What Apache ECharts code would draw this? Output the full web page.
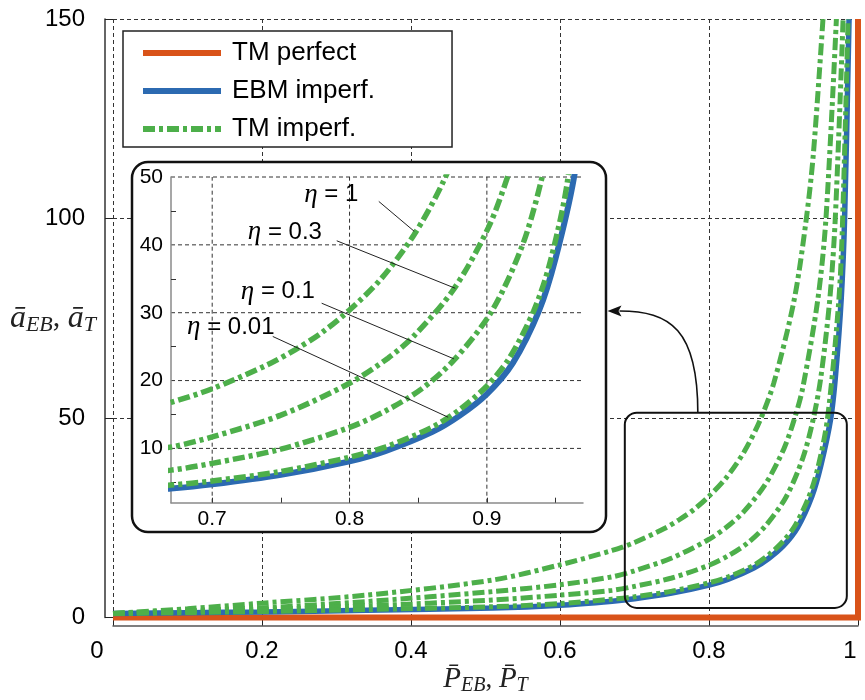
<!DOCTYPE html>
<html><head><meta charset="utf-8">
<script src="https://cdn.jsdelivr.net/npm/echarts@6/dist/echarts.min.js"></script>
<style>html,body{margin:0;padding:0;background:#fff}#c{width:865px;height:700px}</style>
</head><body><div id="c"></div>
<script>
// ---- data ----
const P_perf = [0, 1, 1];
const A_perf = [0, 0, 150];

const P_ebm = [0, 0.1, 0.2, 0.34, 0.51, 0.6, 0.67, 0.7, 0.75, 0.8, 0.826, 0.86, 0.88, 0.9, 0.919, 0.938, 0.95, 0.9635, 0.97, 0.9775, 0.982, 0.988];
const A_ebm = [1.0, 1.2, 1.4, 1.8, 2.4, 3.1, 4.1, 4.7, 6.1, 8.1, 9.6, 12.4, 14.8, 18.0, 22.6, 30.3, 38.0, 50, 61, 80, 100, 150];

const P_eta001 = [0, 0.1, 0.2, 0.34, 0.51, 0.6, 0.67, 0.7, 0.75, 0.8, 0.826, 0.86, 0.88, 0.9, 0.916, 0.934, 0.946, 0.959, 0.974, 0.979, 0.9867];
const A_eta001 = [1.0, 1.25, 1.5, 2.0, 2.7, 3.5, 4.6, 5.2, 6.6, 8.7, 10.2, 13.1, 15.7, 19.2, 23.2, 30.2, 37.4, 49.8, 78.8, 97.6, 150];

const P_eta01 = [0, 0.1, 0.2, 0.34, 0.51, 0.6, 0.67, 0.7, 0.75, 0.8, 0.826, 0.852, 0.876, 0.9035, 0.926, 0.940, 0.950, 0.962, 0.9695, 0.980];
const A_eta01 = [1.0, 1.5, 2.0, 2.9, 4.4, 5.6, 6.8, 7.8, 9.9, 13.1, 15.5, 18.7, 23.0, 30.2, 40.0, 49.8, 60, 79.5, 100, 150];

const P_eta03 = [0, 0.1, 0.2, 0.34, 0.51, 0.6, 0.67, 0.7, 0.75, 0.8, 0.828, 0.847, 0.876, 0.901, 0.916, 0.926, 0.946, 0.957, 0.971];
const A_eta03 = [1.0, 1.7, 2.4, 4.0, 6.5, 8.2, 10.2, 11.7, 14.9, 19.6, 23.3, 26.6, 33.5, 42.5, 50.6, 57.7, 79.6, 100, 150];

const P_eta1 = [0, 0.1, 0.2, 0.34, 0.51, 0.6, 0.67, 0.70, 0.74, 0.76, 0.78, 0.80, 0.823, 0.847, 0.868, 0.887, 0.914, 0.930, 0.94, 0.953];
const A_eta1 = [1.0, 2.2, 3.6, 5.6, 9.4, 13.2, 16.8, 18.8, 22.3, 24.5, 27.1, 30.4, 35.0, 41.5, 49.2, 58.8, 79.3, 99, 116, 150];

const legendNames = ['TM perfect', 'EBM imperf.', 'TM imperf.'];
const xTicksMain = [0, 0.2, 0.4, 0.6, 0.8, 1];
const yTicksMain = [0, 50, 100, 150];
const insetXLabels = [0.7, 0.8, 0.9];
const insetXTicks = [0.7, 0.75, 0.8, 0.85, 0.9, 0.95];
const insetYLabels = [10, 20, 30, 40, 50];
const insetYTicks = [5, 15, 25, 35, 45];
const insetXRange = [0.67, 0.97];
const insetYRange = [2, 50];

// annotations (inset data coordinates)
const annoLabels = ['1', '0.3', '0.1', '0.01'];
const annoTextP = [0.8064, 0.7799, 0.7748, 0.7454];
const annoTextA = [47.4, 41.85, 33.1, 27.9];
const annoFromP = [0.8213, 0.7907, 0.7797, 0.7441];
const annoFromA = [46.4, 40.6, 31.4, 26.5];
const annoToP = [0.8471, 0.8770, 0.876, 0.8718];
const annoToA = [42.0, 33.6, 23.2, 14.6];

// zoom window in main plot (data coords)
const zoomBoxP = [0.687, 0.985];
const zoomBoxA = [2.4, 51.3];
const zoomArrowFromP = 0.785;

// ---- styling ----
const ORANGE = '#D95319', BLUE = '#2C6AB1', GREEN = '#4DAF4A';
const DASHDOT = [12, 4, 4, 4];
const SANS = 'Liberation Sans, Arial, Helvetica, sans-serif';
const SERIF = 'Liberation Serif, Times New Roman, serif';
const INSET_FRAME = {x: 132, y: 162, width: 474, height: 370, r: 16};

const mk = (P, A) => P.map((p, i) => [p, A[i]]);
const fmt1 = v => String(Math.round(v * 10) / 10);

const greens = [[P_eta1, A_eta1], [P_eta03, A_eta03], [P_eta01, A_eta01], [P_eta001, A_eta001]];

function curveSeries(name, P, A, color, width, dashed, ax, z) {
  return {
    name, type: 'line', data: mk(P, A), xAxisIndex: ax, yAxisIndex: ax,
    symbol: 'none', smooth: 0.3, z,
    lineStyle: {color, width, type: dashed ? DASHDOT : 'solid', cap: 'butt'},
    itemStyle: {color}, emphasis: {disabled: true}, silent: true
  };
}

const series = [];
series.push({
  name: 'TM perfect', type: 'line', data: mk(P_perf, A_perf), xAxisIndex: 0, yAxisIndex: 0,
  symbol: 'none', clip: false, z: 2, silent: true,
  lineStyle: {color: ORANGE, width: 6, cap: 'butt', join: 'miter'}, itemStyle: {color: ORANGE}
});
series.push(curveSeries('EBM imperf.', P_ebm, A_ebm, BLUE, 5.5, false, 0, 2));
greens.forEach(g => series.push(curveSeries('TM imperf.', g[0], g[1], GREEN, 5, true, 0, 2)));

// zoom box + arrow in main plot
series.push({
  type: 'custom', xAxisIndex: 0, yAxisIndex: 0, z: 3, silent: true, clip: false,
  data: [[zoomBoxP[0], zoomBoxA[1]]],
  renderItem: function (params, api) {
    const p1 = api.coord([zoomBoxP[0], zoomBoxA[1]]);
    const p2 = api.coord([zoomBoxP[1], zoomBoxA[0]]);
    const s = api.coord([zoomArrowFromP, zoomBoxA[1]]);
    const ex = INSET_FRAME.x + INSET_FRAME.width + 1.5;
    const ey = INSET_FRAME.y + 149;
    return {type: 'group', children: [
      {type: 'rect', shape: {x: p1[0], y: p1[1], width: p2[0] - p1[0], height: p2[1] - p1[1], r: 12},
       style: {fill: 'none', stroke: '#111', lineWidth: 2}},
      {type: 'bezierCurve', shape: {x1: s[0], y1: s[1], cpx1: s[0], cpy1: s[1] - 83, cpx2: ex + 63, cpy2: ey, x2: ex + 12, y2: ey},
       style: {fill: 'none', stroke: '#111', lineWidth: 1.6}},
      {type: 'polygon', shape: {points: [[ex, ey], [ex + 14, ey - 5.5], [ex + 11, ey], [ex + 14, ey + 5.5]]},
       style: {fill: '#111'}}
    ]};
  }
});

// inset dashed grid lines
series.push({
  type: 'custom', xAxisIndex: 1, yAxisIndex: 1, z: 6, silent: true,
  data: [[0.8, 20]],
  renderItem: function (params, api) {
    const ch = [];
    const st = {stroke: '#333', lineWidth: 1, lineDash: [4, 3], fill: 'none'};
    insetXLabels.forEach(v => {
      const a = api.coord([v, insetYRange[0]]), b = api.coord([v, insetYRange[1]]);
      ch.push({type: 'line', shape: {x1: a[0], y1: a[1], x2: b[0], y2: b[1]}, style: st});
    });
    insetYLabels.forEach(v => {
      const a = api.coord([insetXRange[0], v]), b = api.coord([insetXRange[1], v]);
      ch.push({type: 'line', shape: {x1: a[0], y1: a[1], x2: b[0], y2: b[1]}, style: st});
    });
    return {type: 'group', children: ch};
  }
});

series.push(curveSeries('EBM imperf.', P_ebm, A_ebm, BLUE, 6, false, 1, 8));
greens.slice().reverse().forEach(g => series.push(curveSeries('TM imperf.', g[0], g[1], GREEN, 5.5, true, 1, 8)));

// annotations
series.push({
  type: 'custom', xAxisIndex: 1, yAxisIndex: 1, z: 9, silent: true, clip: false,
  data: annoLabels.map((l, i) => [annoToP[i], annoToA[i]]),
  renderItem: function (params, api) {
    const i = params.dataIndex;
    const t = api.coord([annoTextP[i], annoTextA[i]]);
    const f = api.coord([annoFromP[i], annoFromA[i]]);
    const e = api.coord([annoToP[i], annoToA[i]]);
    return {type: 'group', children: [
      {type: 'line', shape: {x1: f[0], y1: f[1], x2: e[0], y2: e[1]}, style: {stroke: '#222', lineWidth: 1}},
      {type: 'text', style: {
        text: '{e|η} = ' + annoLabels[i], x: t[0], y: t[1], align: 'right', verticalAlign: 'middle',
        fontSize: 24, fontFamily: SANS, fill: '#000',
        rich: {e: {fontSize: 27, fontStyle: 'italic', fontFamily: SERIF, fill: '#000'}}
      }}
    ]};
  }
});

const option = {
  animation: false,
  backgroundColor: '#fff',
  textStyle: {fontFamily: SANS},
  grid: [
    {left: 113, top: 19, width: 745, height: 598.5, containLabel: false, outerBoundsMode: 'none'},
    {left: 171, top: 177, width: 412, height: 325.7, containLabel: false, outerBoundsMode: 'none', z: 6}
  ],
  legend: {
    data: legendNames, orient: 'vertical', left: 123, top: 31,
    itemWidth: 78, itemHeight: 14, itemGap: 10, padding: [8, 77, 4, 17],
    backgroundColor: '#fff', borderColor: '#222', borderWidth: 1.5, borderRadius: 0,
    selectedMode: false, z: 4,
    formatter: '{t|{name}}',
    textStyle: {color: '#000', fontSize: 26, fontFamily: SANS, lineHeight: 28,
      rich: {t: {fontSize: 26, fontFamily: SANS, color: '#000', padding: [0, 0, 0, 6]}}},
    itemStyle: {color: 'rgba(0,0,0,0)', borderWidth: 0, opacity: 0},
    lineStyle: {width: 6}
  },
  graphic: [
    {type: 'rect', z: 5, silent: true, shape: INSET_FRAME, style: {fill: '#fff', stroke: '#111', lineWidth: 2.5}}
  ],
  xAxis: [
    {
      type: 'value', gridIndex: 0, min: xTicksMain[0], max: xTicksMain[xTicksMain.length - 1], interval: 0.2, offset: 8,
      axisLine: {onZero: false, lineStyle: {color: '#555', width: 1.5}},
      axisTick: {inside: true, length: 8, lineStyle: {color: '#222'}},
      axisLabel: {
        margin: 14, fontSize: 24, color: '#000', fontFamily: SANS,
        formatter: v => v === 0 ? '{l|0}' : (Math.abs(v - 1) < 1e-9 ? '{r|1}' : fmt1(v)),
        rich: {l: {fontSize: 24, fontFamily: SANS, color: '#000', padding: [0, 32, 0, 0]},
               r: {fontSize: 24, fontFamily: SANS, color: '#000', padding: [0, 16, 0, 0]}}
      },
      splitLine: {show: true, lineStyle: {type: [4, 3], color: '#333', width: 1}},
      name: '{i|P\u0304}{s|EB}{c|, }{i|P\u0304}{s|T}', nameLocation: 'middle', nameGap: 38, nameMoveOverlap: false,
      nameTextStyle: {rich: {
        i: {fontSize: 29, fontStyle: 'italic', fontFamily: SERIF, color: '#222'},
        c: {fontSize: 27, fontFamily: SERIF, color: '#222'},
        s: {fontSize: 20, fontStyle: 'italic', fontFamily: SERIF, color: '#222', padding: [12, 0, 0, 0]}
      }}
    },
    {
      type: 'value', gridIndex: 1, min: insetXRange[0], max: insetXRange[1], z: 7,
      axisLine: {onZero: false, lineStyle: {color: '#8a8a8a', width: 1.5}},
      axisTick: {inside: true, length: 5, customValues: insetXTicks, lineStyle: {color: '#333'}},
      axisLabel: {customValues: insetXLabels, fontSize: 21, margin: 6, color: '#000', fontFamily: SANS, formatter: v => v.toFixed(1)},
      splitLine: {show: false}
    }
  ],
  yAxis: [
    {
      type: 'value', gridIndex: 0, min: yTicksMain[0], max: yTicksMain[yTicksMain.length - 1], interval: 50, offset: 8,
      axisLine: {show: true, onZero: false, lineStyle: {color: '#333', width: 1.5}},
      axisTick: {show: true, inside: true, length: 8, lineStyle: {color: '#222'}},
      axisLabel: {margin: 20, fontSize: 24, color: '#000', fontFamily: SANS},
      splitLine: {show: true, lineStyle: {type: [4, 3], color: '#333', width: 1}},
      name: '{i|ā}{s|EB}{c|, }{i|ā}{s|T}', nameLocation: 'middle', nameRotate: 0, nameGap: 9, nameMoveOverlap: false,
      nameTextStyle: {rich: {
        i: {fontSize: 32, fontStyle: 'italic', fontFamily: SERIF, color: '#222'},
        c: {fontSize: 30, fontFamily: SERIF, color: '#222'},
        s: {fontSize: 22, fontStyle: 'italic', fontFamily: SERIF, color: '#222', padding: [14, 0, 0, 0]}
      }}
    },
    {
      type: 'value', gridIndex: 1, min: insetYRange[0], max: insetYRange[1], z: 7,
      axisLine: {show: true, onZero: false, lineStyle: {color: '#8a8a8a', width: 1.5}},
      axisTick: {show: true, inside: true, length: 5, customValues: insetYTicks, lineStyle: {color: '#333'}},
      axisLabel: {customValues: insetYLabels, fontSize: 21, margin: 8, color: '#000', fontFamily: SANS},
      splitLine: {show: false}
    }
  ],
  series
};

const chart = echarts.init(document.getElementById('c'), null, {renderer: 'canvas'});
chart.setOption(option);
</script>
</body></html>
